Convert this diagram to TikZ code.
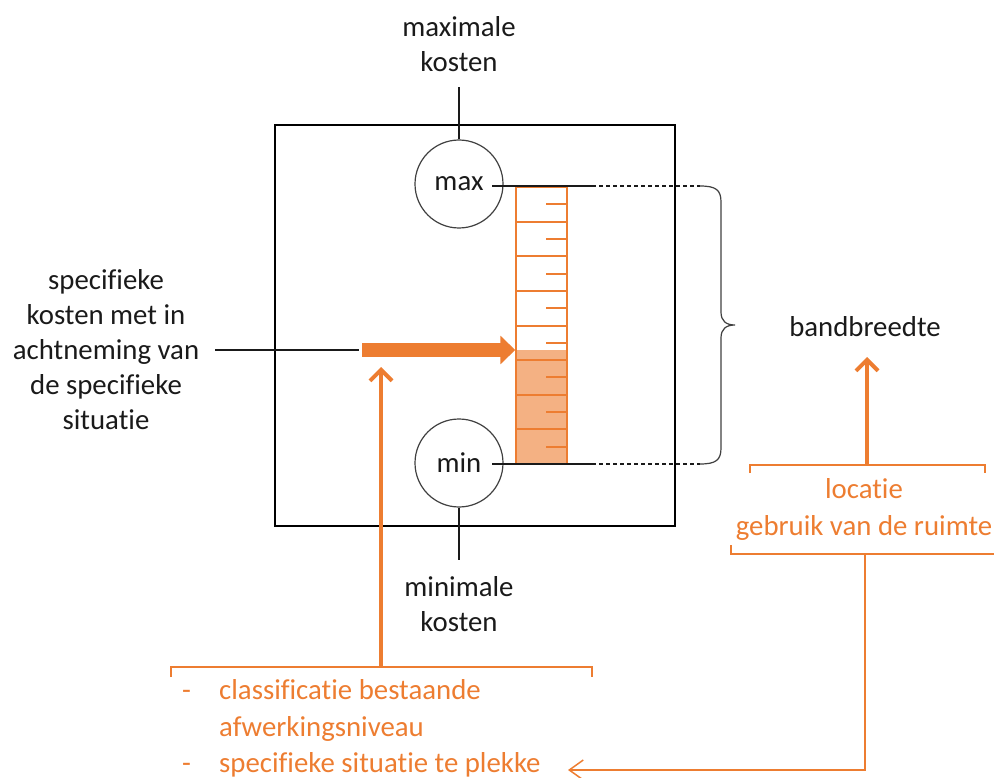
\documentclass[tikz,border=0pt]{standalone}
\usepackage{fontspec}
\setmainfont{Carlito}[Ligatures={NoCommon,NoContextual}]
\usetikzlibrary{arrows.meta}
\definecolor{orng}{HTML}{ED7D31}
\definecolor{lorng}{HTML}{F4B183}
\definecolor{txt}{HTML}{1A1A1A}
\begin{document}
\begin{tikzpicture}[x=1pt,y=-1pt,
  lbl/.style={font=\fontsize{28.8}{35}\selectfont, text=txt, align=center, inner sep=0},
  olbl/.style={font=\fontsize{28.8}{37}\selectfont, text=orng, align=center, inner sep=0},
  ring/.style={circle, draw=black!75, line width=1.2, minimum size=88, inner sep=0, font=\fontsize{28.8}{35}\selectfont, text=txt},
  blk/.style={line width=1.3, draw=txt},
  obr/.style={draw=orng, line width=1.5},
  oarr/.style={draw=orng, line width=4, -{Straight Barb[length=11pt,width=22pt]}},
  scaletick/.style={draw=orng, line width=2},
]
\useasboundingbox (0,0) rectangle (994,778);
\clip (0,0) rectangle (994,778);

% frame
\node (box) [draw=black, line width=2.5, minimum width=400, minimum height=401, inner sep=0] at (475,325.5) {};

% circles
\node (maxc) [ring] at (459,184) {max};
\node (minc) [ring] at (459,463) {min};

% top / bottom labels
\node (maxl) [lbl] at (459,44.5) {maximale\\kosten};
\coordinate (maxt) at (459,87);
\draw[blk] (maxc.north) -- (maxt);
\node (minl) [lbl] at (459,604.5) {minimale\\kosten};
\coordinate (minb) at (459,560);
\draw[blk] (minc.south) -- (minb);

% scale
\fill[lorng] (516,350) rectangle (567,464);
\foreach \k in {1,...,7} {
  \draw[scaletick] (516,187+\k*34.625) -- (567,187+\k*34.625);
}
\foreach \k in {0,...,7} {
  \draw[scaletick] (546,187+\k*34.625+17.3) -- (567,187+\k*34.625+17.3);
}
\node (scale) [draw=orng, line width=1.5, minimum width=51, minimum height=277, inner sep=0] at (541.5,325.5) {};

% max / min reference lines
\coordinate (mxa) at (492,186);
\coordinate (mxb) at (592,186);
\coordinate (mxc) at (700,186);
\coordinate (mna) at (492,464);
\coordinate (mnb) at (592,464);
\coordinate (mnc) at (700,464);
\draw[blk] (mxa) -- (mxb);
\draw[blk, dash pattern=on 4pt off 3pt] (mxb) -- (mxc);
\draw[blk] (mna) -- (mnb);
\draw[blk, dash pattern=on 4pt off 3pt] (mnb) -- (mnc);

% brace
\draw[line width=1.2, draw=black!75] (mxc) .. controls (716,186) and (721,190) .. (721,202)
  -- (721,312) .. controls (721,321) and (726,325) .. (735,325)
  .. controls (726,325) and (721,329) .. (721,338)
  -- (721,448) .. controls (721,460) and (716,464) .. (mnc);

\node (bw) [lbl] at (865,327) {bandbreedte};

% left label and thick arrow
\node (spec) [lbl] at (106,350) {specifieke\\kosten met in\\achtneming van\\de specifieke\\situatie};
\coordinate (ta) at (362,350);
\coordinate (la) at (215,350);
\coordinate (lb) at (359,350);
\draw[blk] (la) -- (lb);
\draw[draw=orng, line width=14, -{Triangle[length=15pt,width=28pt]}] (ta) -- (ta -| scale.west);

% bottom-left bracket and arrow
\coordinate (b1) at (381,667);
\coordinate (b1t) at (381,367);
\draw[oarr] (b1) -- (b1t);
\draw[obr] (171,677) -- (171,667) -- (592,667) -- (592,677);
\node (list) [anchor=west, inner sep=0, font=\fontsize{28.8}{36.5}\selectfont, text=orng] at (182,729)
  {\begin{tabular}{@{}p{37pt}@{}l@{}}
   - & classificatie bestaande\\
     & afwerkingsniveau\\
   - & specifieke situatie te plekke
  \end{tabular}};

% right bracket and arrow
\coordinate (b2) at (867,465);
\coordinate (b2t) at (867,357);
\draw[oarr] (b2) -- (b2t);
\draw[obr] (750,473) -- (750,465) -- (985,465) -- (985,473);
\node (loc) [olbl] at (864,509) {locatie\\gebruik van de ruimte};
\draw[obr] (731,545) -- (731,554) -- (1000,554);
\coordinate (c1) at (865,554);
\coordinate (c2) at (865,770);
\coordinate (c3) at (568,770);
\draw[obr, -{Straight Barb[length=14pt,width=20pt]}] (c1) -- (c2) -- (c3);
\end{tikzpicture}
\end{document}
